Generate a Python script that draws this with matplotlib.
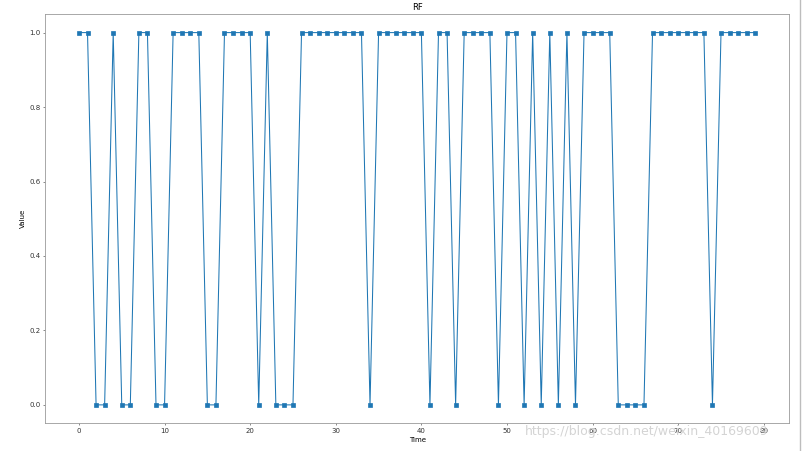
import numpy as np
import matplotlib
matplotlib.use("Agg")
import matplotlib.pyplot as plt

# RF output per time step
time = list(range(80))
value = [1, 1, 0, 0, 1, 0, 0, 1, 1, 0,
         0, 1, 1, 1, 1, 0, 0, 1, 1, 1,
         1, 0, 1, 0, 0, 0, 1, 1, 1, 1,
         1, 1, 1, 1, 0, 1, 1, 1, 1, 1,
         1, 0, 1, 1, 0, 1, 1, 1, 1, 0,
         1, 1, 0, 1, 0, 1, 0, 1, 0, 1,
         1, 1, 1, 0, 0, 0, 0, 1, 1, 1,
         1, 1, 1, 1, 0, 1, 1, 1, 1, 1]

fig = plt.figure(figsize=(806 / 50, 451 / 50), dpi=50)
ax = fig.add_axes([0.056, 0.061, 0.923, 0.908])

ax.plot(time, value, marker='s', markersize=7, color='#1f77b4', lw=1.5)
ax.set_title('RF')
ax.set_xlabel('Time')
ax.set_ylabel('Value')

for sp in ax.spines.values():
    sp.set_color('#9a9a9a')
    sp.set_linewidth(1.2)
ax.tick_params(colors='#333333')

# watermark of the screenshot source
fig.text(525 / 806, 1 - 432 / 451, 'https://blog.csdn.net/weixin_40169609',
         color='#d4d4d4', fontsize=18, va='center', ha='left')

# right border line of the notebook cell
fig.add_artist(plt.Line2D([800 / 806, 800 / 806], [0, 1], color='#bdbdbd', lw=2))

fig.savefig('out.png', dpi=50)
